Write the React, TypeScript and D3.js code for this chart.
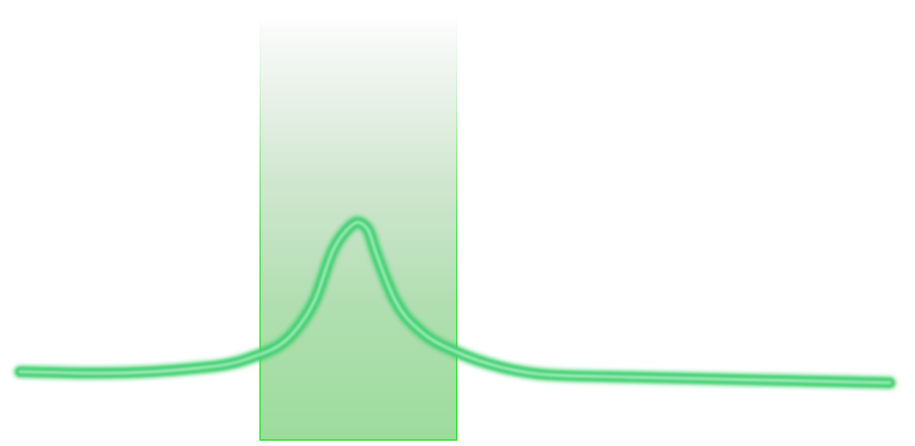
import React from "react";
import * as d3 from "d3";

const xValues = [0, 9.2, 20.7, 26.4, 31.4, 33.9, 36, 37.6, 38.8, 40.0, 40.8, 43.1, 46.3, 50.2, 55.2, 60.9, 70.1, 100];
const yValues = [15.5, 15.2, 16.4, 18.6, 24.3, 31.8, 43.2, 47.8, 49.5, 47.8, 43.2, 31.8, 24.3, 20, 16.6, 14.8, 14.3, 13];
const bandStart = [27.6];
const bandEnd = [50.2];

const W = 915;
const H = 446;

export default function App() {
  const x = d3.scaleLinear().domain([0, 100]).range([20, 890]);
  const y = d3.scaleLinear().domain([0, 100]).range([440, 0]);
  const pts = xValues.map((v, i) => [v, yValues[i]] as [number, number]);
  const line = d3
    .line<[number, number]>()
    .x((d) => x(d[0]))
    .y((d) => y(d[1]))
    .curve(d3.curveMonotoneX);
  const path = line(pts) || "";
  const bx0 = x(bandStart[0]);
  const bx1 = x(bandEnd[0]);
  const by0 = y(100);
  const by1 = y(0);

  return (
    <svg
      width={W}
      height={H}
      style={{ position: "fixed", top: 0, left: 0, display: "block", background: "#fff" }}
    >
      <defs>
        <linearGradient id="bandFill" gradientUnits="userSpaceOnUse" x1="0" y1={by0} x2="0" y2={by1}>
          <stop offset="0" stopColor="#ffffff" stopOpacity={0} />
          <stop offset="0.034" stopColor="#ffffff" stopOpacity={0} />
          <stop offset="0.068" stopColor="#fafafa" />
          <stop offset="0.136" stopColor="#f2f6f2" />
          <stop offset="0.41" stopColor="#d1e6d1" />
          <stop offset="0.705" stopColor="#b0deb0" />
          <stop offset="1" stopColor="#9ddc9d" />
        </linearGradient>
        <linearGradient id="bandStroke" gradientUnits="userSpaceOnUse" x1="0" y1={by0} x2="0" y2={by1}>
          <stop offset="0.03" stopColor="#33dd33" stopOpacity={0} />
          <stop offset="0.2" stopColor="#33dd33" stopOpacity={0.15} />
          <stop offset="0.55" stopColor="#33dd33" stopOpacity={0.8} />
          <stop offset="1" stopColor="#33dd33" stopOpacity={1} />
        </linearGradient>
        <filter id="glow" x="-10%" y="-50%" width="120%" height="200%">
          <feGaussianBlur stdDeviation="2" />
        </filter>
        <filter id="soft" x="-10%" y="-50%" width="120%" height="200%">
          <feGaussianBlur stdDeviation="0.8" />
        </filter>
      </defs>
      <rect
        x={bx0}
        y={by0}
        width={bx1 - bx0}
        height={by1 - by0}
        fill="url(#bandFill)"
        stroke="url(#bandStroke)"
        strokeWidth={1.5}
      />
      <path d={path} fill="none" stroke="#3ccf6c" strokeWidth={12} strokeLinecap="round" strokeLinejoin="round" filter="url(#glow)" opacity={0.9} />
      <path d={path} fill="none" stroke="#48d178" strokeWidth={8.5} strokeLinecap="round" strokeLinejoin="round" filter="url(#soft)" />
      <path d={path} fill="none" stroke="#a6eebb" strokeWidth={2.6} strokeLinecap="round" strokeLinejoin="round" filter="url(#soft)" />
    </svg>
  );
}
